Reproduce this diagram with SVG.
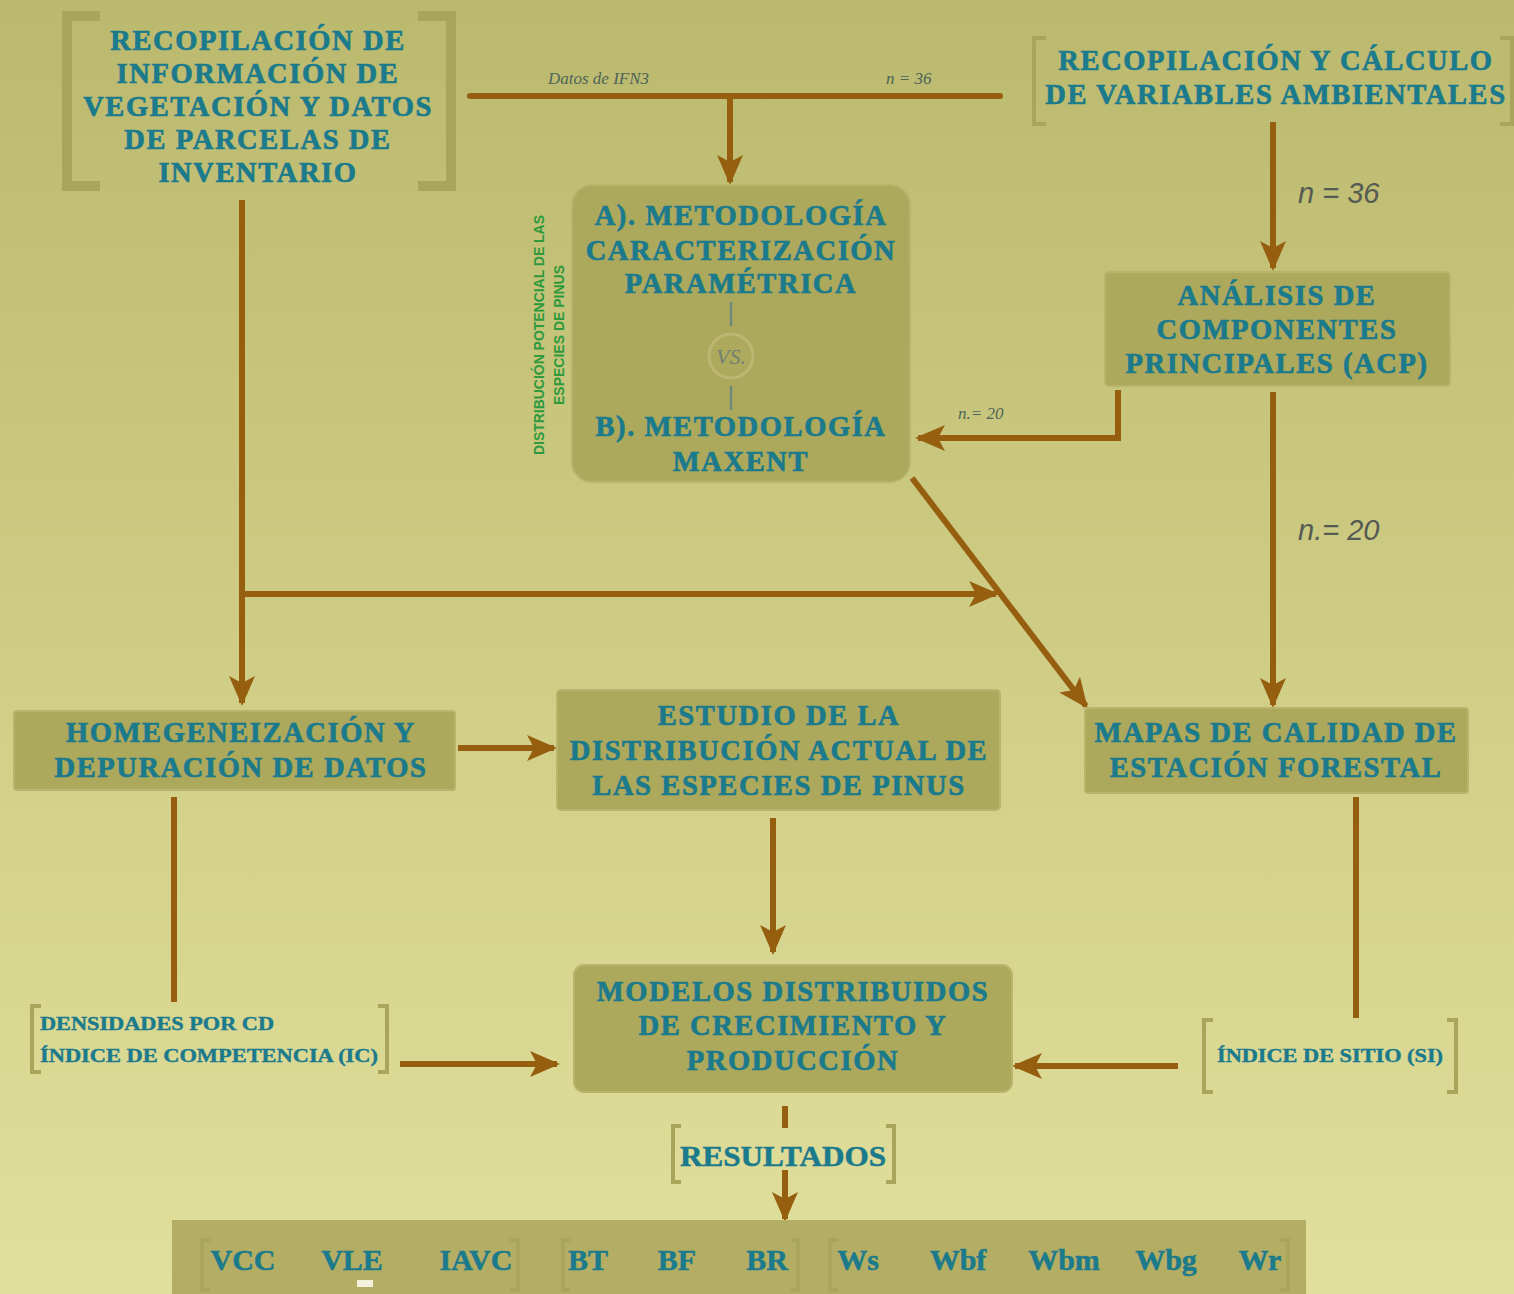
<svg xmlns="http://www.w3.org/2000/svg" width="1514" height="1294" viewBox="0 0 1514 1294">
<defs>
<linearGradient id="bg" x1="0" y1="0" x2="0" y2="1">
<stop offset="0" stop-color="#bbb96e"/>
<stop offset="0.5" stop-color="#cfcd85"/>
<stop offset="1" stop-color="#e0df9c"/>
</linearGradient>
<marker id="ah" viewBox="0 0 30 26" refX="27" refY="13" markerWidth="30" markerHeight="26" markerUnits="userSpaceOnUse" orient="auto">
<path d="M0,0 L30,13 L0,26 L7,13 Z" fill="#955f0f"/>
</marker>
<style>
.box{fill:#aca85c;stroke:#b9b46c;stroke-width:2}
.t{font-family:"Liberation Serif",serif;font-weight:bold;font-size:28.5px;letter-spacing:1.6px;fill:#1b7a8b;stroke:#1b7a8b;stroke-width:0.7px;text-anchor:middle}
.s{font-family:"Liberation Serif",serif;font-weight:bold;font-size:18px;fill:#1b7a8b;stroke:#1b7a8b;stroke-width:0.4px}
.br{fill:none;stroke:#a9a55a;stroke-width:4}
.brt{fill:none;stroke:#a9a55a;stroke-width:10}
.c{fill:none;stroke:#955f0f;stroke-width:6}
.lab{font-family:"Liberation Serif",serif;font-style:italic;font-size:17px;fill:#4e6458}
.lab2{font-family:"Liberation Sans",sans-serif;font-style:italic;font-size:29px;fill:#555a52}
.g{font-family:"Liberation Sans",sans-serif;font-weight:bold;font-size:14px;fill:#2e9a3c;text-anchor:middle}
.r{font-family:"Liberation Serif",serif;font-weight:bold;font-size:30px;fill:#1b7a8b;stroke:#1b7a8b;stroke-width:0.5px;text-anchor:middle}
</style>
</defs>
<rect width="1514" height="1294" fill="url(#bg)"/>

<g id="connectors">
<path class="c" d="M470,96 H1000" stroke-width="8" stroke-linecap="round"/>
<path class="c" d="M730,96 V182" marker-end="url(#ah)"/>
<path class="c" d="M1273,122 V268" marker-end="url(#ah)"/>
<path class="c" d="M1273,392 V705" marker-end="url(#ah)"/>
<path class="c" d="M1118,390 V438 H918" marker-end="url(#ah)"/>
<path class="c" d="M242,200 V703" marker-end="url(#ah)"/>
<path class="c" d="M242,594 H996" marker-end="url(#ah)"/>
<path class="c" d="M912,478 L1086,706" stroke-width="5" marker-end="url(#ah)"/>
<path class="c" d="M458,748 H554" marker-end="url(#ah)"/>
<path class="c" d="M773,818 V952" marker-end="url(#ah)"/>
<path class="c" d="M174,797 V1002"/>
<path class="c" d="M1356,797 V1018"/>
<path class="c" d="M400,1064 H557" marker-end="url(#ah)"/>
<path class="c" d="M1178,1066 H1015" marker-end="url(#ah)"/>
<path class="c" d="M785,1106 V1128"/>
<path class="c" d="M785,1170 V1219" marker-end="url(#ah)"/>
<text class="lab" x="548" y="84">Datos de IFN3</text>
<text class="lab" x="886" y="84">n = 36</text>
<text class="lab2" x="1298" y="203">n = 36</text>
<text class="lab2" x="1298" y="540">n.= 20</text>
<text class="lab" x="958" y="419" font-size="16">n.= 20</text>
</g>

<g id="n1">
<path class="brt" d="M100,16 H67 V186 H100"/>
<path class="brt" d="M418,16 H451 V186 H418"/>
<text class="t" x="258" y="50">RECOPILACIÓN DE</text>
<text class="t" x="258" y="83">INFORMACIÓN DE</text>
<text class="t" x="258" y="116">VEGETACIÓN Y DATOS</text>
<text class="t" x="258" y="149">DE PARCELAS DE</text>
<text class="t" x="258" y="182">INVENTARIO</text>
</g>

<g id="n2">
<path class="br" d="M1046,38 H1034 V124 H1046"/>
<path class="br" d="M1500,38 H1512 V124 H1500"/>
<text class="t" x="1276" y="70">RECOPILACIÓN Y CÁLCULO</text>
<text class="t" x="1276" y="104">DE VARIABLES AMBIENTALES</text>
</g>

<g id="n3">
<rect class="box" x="572" y="185" width="338" height="297" rx="20"/>
<text class="t" x="741" y="225">A). METODOLOGÍA</text>
<text class="t" x="741" y="260">CARACTERIZACIÓN</text>
<text class="t" x="741" y="293">PARAMÉTRICA</text>
<path d="M731,302 V326 M731,386 V410" stroke="#6d8a7c" stroke-width="2.5"/>
<circle cx="731" cy="356" r="22" fill="#ada95d" stroke="#bdb772" stroke-width="3"/>
<text x="731" y="364" font-family="Liberation Serif, serif" font-style="italic" font-size="22" fill="#72806e" text-anchor="middle">VS.</text>
<text class="t" x="741" y="436">B). METODOLOGÍA</text>
<text class="t" x="741" y="471">MAXENT</text>
<text class="g" transform="translate(544,335) rotate(-90)" textLength="240" lengthAdjust="spacingAndGlyphs">DISTRIBUCIÓN POTENCIAL DE LAS</text>
<text class="g" transform="translate(564,335) rotate(-90)" textLength="140" lengthAdjust="spacingAndGlyphs">ESPECIES DE PINUS</text>
</g>

<g id="n4">
<rect class="box" x="1105" y="272" width="345" height="114" rx="4"/>
<text class="t" x="1277" y="305">ANÁLISIS DE</text>
<text class="t" x="1277" y="339">COMPONENTES</text>
<text class="t" x="1277" y="373">PRINCIPALES (ACP)</text>
</g>

<g id="n5">
<rect class="box" x="14" y="711" width="441" height="79" rx="3"/>
<text class="t" x="241" y="742">HOMEGENEIZACIÓN Y</text>
<text class="t" x="241" y="777">DEPURACIÓN DE DATOS</text>
</g>

<g id="n6">
<rect class="box" x="557" y="690" width="443" height="120" rx="4"/>
<text class="t" x="779" y="725">ESTUDIO DE LA</text>
<text class="t" x="779" y="760">DISTRIBUCIÓN ACTUAL DE</text>
<text class="t" x="779" y="795">LAS ESPECIES DE PINUS</text>
</g>

<g id="n7">
<rect class="box" x="1085" y="708" width="383" height="85" rx="3"/>
<text class="t" x="1276" y="742">MAPAS DE CALIDAD DE</text>
<text class="t" x="1276" y="777">ESTACIÓN FORESTAL</text>
</g>

<g id="n8">
<path class="br" d="M41,1006 H32 V1072 H41"/>
<path class="br" d="M378,1006 H387 V1072 H378"/>
<text class="s" x="40" y="1030" textLength="234" lengthAdjust="spacingAndGlyphs">DENSIDADES POR CD</text>
<text class="s" x="40" y="1062" textLength="338" lengthAdjust="spacingAndGlyphs">ÍNDICE DE COMPETENCIA (IC)</text>
</g>

<g id="n9">
<rect class="box" x="574" y="965" width="438" height="127" rx="10"/>
<text class="t" x="793" y="1001">MODELOS DISTRIBUIDOS</text>
<text class="t" x="793" y="1035">DE CRECIMIENTO Y</text>
<text class="t" x="793" y="1070">PRODUCCIÓN</text>
</g>

<g id="n10">
<path class="br" d="M1213,1020 H1204 V1092 H1213"/>
<path class="br" d="M1447,1020 H1456 V1092 H1447"/>
<text class="s" x="1217" y="1062" textLength="226" lengthAdjust="spacingAndGlyphs">ÍNDICE DE SITIO (SI)</text>
</g>

<g id="n11">
<path class="br" d="M681,1126 H673 V1182 H681"/>
<path class="br" d="M886,1126 H894 V1182 H886"/>
<text class="r" x="783" y="1166" textLength="206" lengthAdjust="spacingAndGlyphs">RESULTADOS</text>
</g>

<g id="n12">
<rect x="172" y="1220" width="1134" height="80" fill="#b4ae64"/>
<path class="br" d="M210,1240 H202 V1290 H210"/>
<path class="br" d="M510,1240 H518 V1290 H510"/>
<path class="br" d="M570,1240 H563 V1290 H570"/>
<path class="br" d="M791,1240 H798 V1290 H791"/>
<path class="br" d="M838,1240 H830 V1290 H838"/>
<path class="br" d="M1280,1240 H1288 V1290 H1280"/>
<text class="r" x="243" y="1270">VCC</text>
<text class="r" x="352" y="1270">VLE</text>
<text class="r" x="476" y="1270">IAVC</text>
<text class="r" x="588" y="1270">BT</text>
<text class="r" x="677" y="1270">BF</text>
<text class="r" x="767" y="1270">BR</text>
<text class="r" x="858" y="1270">Ws</text>
<text class="r" x="958" y="1270">Wbf</text>
<text class="r" x="1064" y="1270">Wbm</text>
<text class="r" x="1166" y="1270">Wbg</text>
<text class="r" x="1260" y="1270">Wr</text>
<rect x="357" y="1280" width="16" height="7" fill="#f4f2dc"/>
</g>
</svg>
